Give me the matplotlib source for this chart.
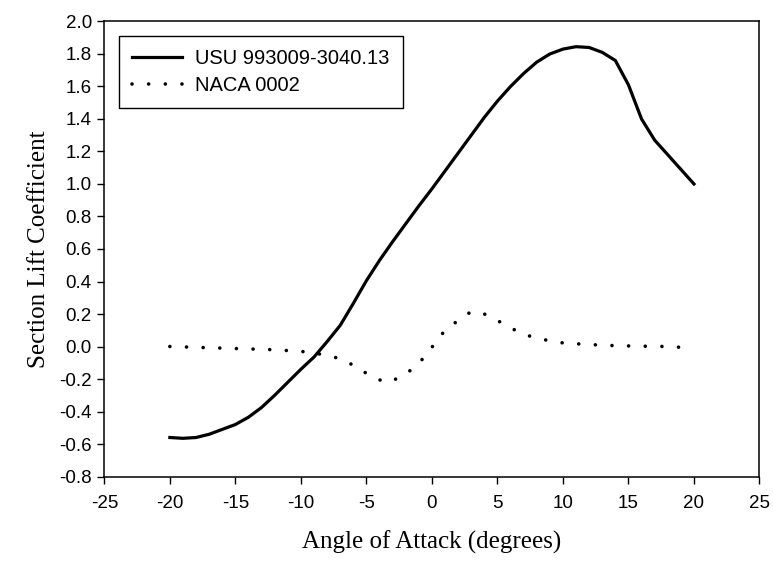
import matplotlib
matplotlib.use("Agg")
import matplotlib.pyplot as plt

# USU 993009-3040.13 section lift curve
usu_alpha = [-20, -19, -18, -17, -16, -15, -14, -13, -12, -11, -10, -9, -8, -7, -6, -5, -4, -3, -2, -1,
             0, 1, 2, 3, 4, 5, 6, 7, 8, 9, 10, 11, 12, 13, 14, 15, 16, 17, 18, 19, 20]
usu_cl = [-0.56, -0.565, -0.56, -0.54, -0.51, -0.48, -0.435, -0.375, -0.30, -0.22, -0.14, -0.065, 0.03, 0.13,
          0.265, 0.405, 0.53, 0.645, 0.755, 0.865, 0.97, 1.08, 1.19, 1.30, 1.41, 1.51, 1.60, 1.68, 1.75, 1.80,
          1.83, 1.845, 1.84, 1.81, 1.76, 1.61, 1.40, 1.27, 1.18, 1.09, 1.00]

# NACA 0002 section lift curve
naca_alpha = [-20, -18, -16, -14, -12, -10, -9, -8, -7, -6, -5, -4, -3.5, -3, -2, -1, 0, 1, 2, 3, 4, 5, 6, 7,
              8, 9, 10, 12, 14, 16, 18, 20]
naca_cl = [0.0, -0.005, -0.01, -0.015, -0.02, -0.03, -0.04, -0.055, -0.075, -0.115, -0.165, -0.205, -0.222,
           -0.21, -0.17, -0.105, -0.005, 0.10, 0.16, 0.215, 0.20, 0.16, 0.115, 0.075, 0.052, 0.035, 0.022,
           0.012, 0.005, 0.002, 0.0, -0.01]

x_ticks = list(range(-25, 26, 5))
y_ticks = [-0.8, -0.6, -0.4, -0.2, 0.0, 0.2, 0.4, 0.6, 0.8, 1.0, 1.2, 1.4, 1.6, 1.8, 2.0]

sans = ["Liberation Sans", "DejaVu Sans"]
serif = ["Liberation Serif", "DejaVu Serif"]

fig = plt.figure(figsize=(7.73, 5.61), dpi=100)
ax = fig.add_axes([0.135, 0.1506, 0.8475, 0.8111])

ax.plot(usu_alpha, usu_cl, color="black", linewidth=2.3, label="USU 993009-3040.13")
ax.plot(naca_alpha, naca_cl, color="black", linewidth=2.6, dashes=(0.01, 4.6),
        dash_capstyle="round", label="NACA 0002")

ax.set_xlim(-25, 25)
ax.set_ylim(-0.8, 2.0)
ax.set_xticks(x_ticks)
ax.set_yticks(y_ticks)
ax.set_xticklabels([str(v) for v in x_ticks], family=sans, fontsize=13.5)
ax.set_yticklabels([f"{v:.1f}" for v in y_ticks], family=sans, fontsize=13.5)
ax.tick_params(axis="x", direction="out", length=5, width=1, colors="black", pad=8)
ax.tick_params(axis="y", direction="out", length=5, width=1, colors="black", pad=4)
for s in ax.spines.values():
    s.set_linewidth(1.1)
    s.set_color("black")

ax.set_xlabel("Angle of Attack (degrees)", family=serif, fontsize=18, labelpad=14)
ax.set_ylabel("Section Lift Coefficient", family=serif, fontsize=18, labelpad=7)

leg = ax.legend(loc="upper left", bbox_to_anchor=(0.022, 0.968), borderaxespad=0,
                prop={"family": sans, "size": 14.5}, fancybox=False, edgecolor="black",
                framealpha=1, handlelength=2.5, handletextpad=0.65, labelspacing=0.4,
                borderpad=0.65)
leg.get_frame().set_linewidth(1.0)

fig.savefig("out.png", dpi=100)
